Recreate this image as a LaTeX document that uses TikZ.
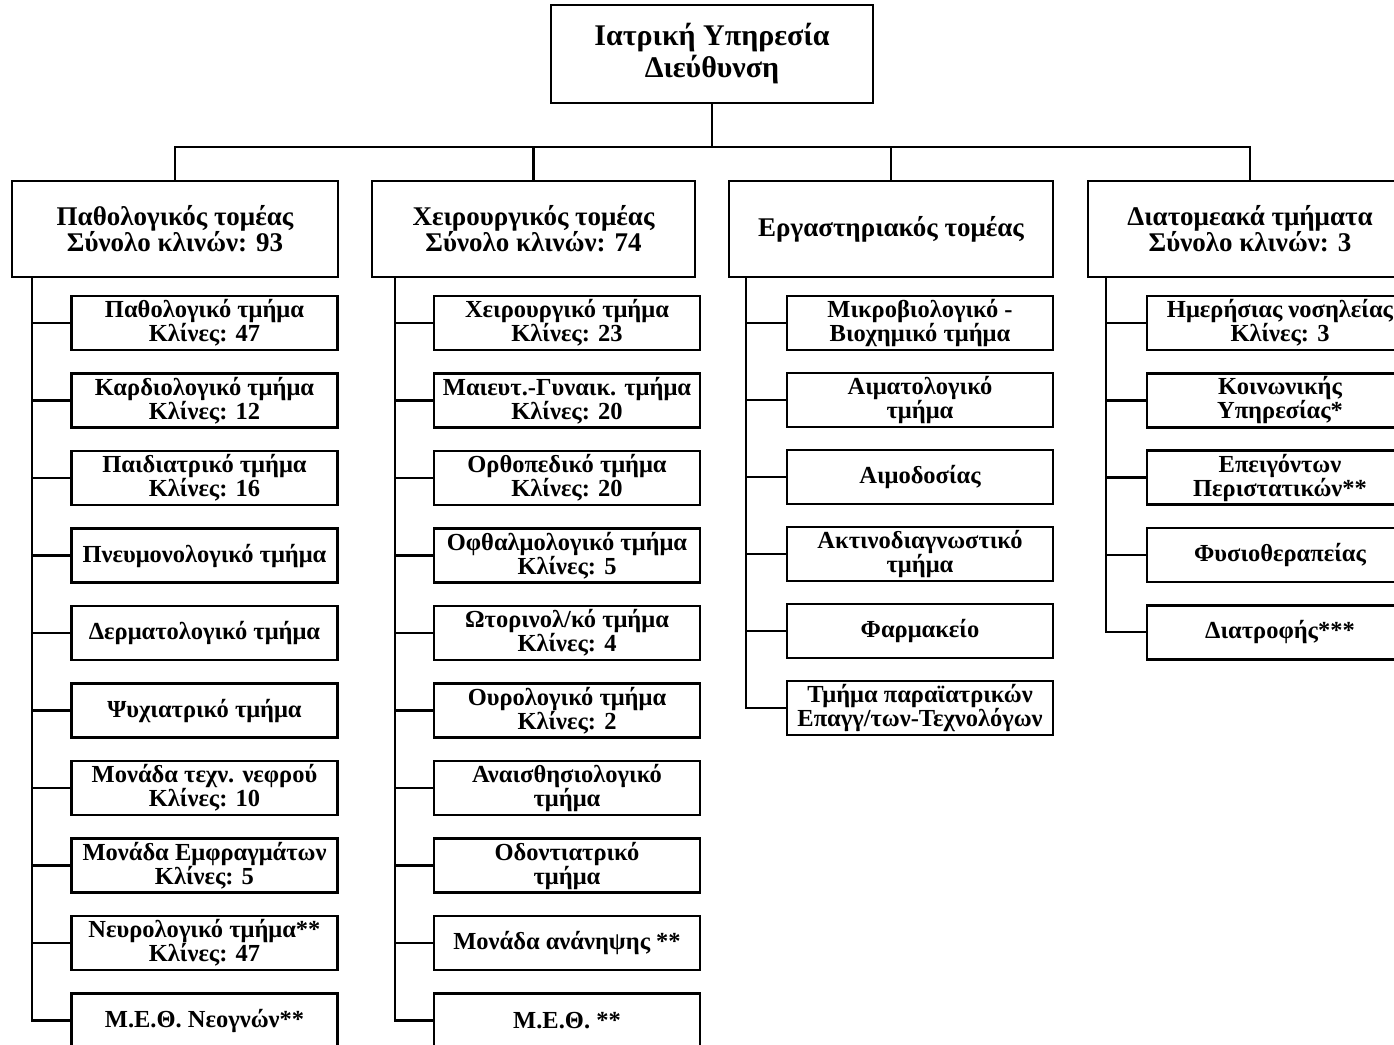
\documentclass[tikz,border=0pt]{standalone}
\usepackage{fontspec}
\setmainfont{Liberation Serif}
\begin{document}
\begin{tikzpicture}[x=1pt,y=-1pt,
  bx/.style={draw=black, line width=2.6pt, align=center, inner sep=0pt, font=\bfseries\fontsize{24.5}{24}\selectfont},
  child/.style={bx, minimum width=266pt, minimum height=54pt},
  sector/.style={bx, minimum width=324pt, minimum height=96pt, font=\bfseries\fontsize{27}{26}\selectfont},
  ln/.style={line width=2.4pt, black}]
\useasboundingbox[fill=white] (0,0) rectangle (1394,1044);
\clip (0,0) rectangle (1394,1044);
% top
\node[bx, minimum width=322pt, minimum height=98pt, font=\bfseries\fontsize{30}{32}\selectfont] (top) at (712,54) {Ιατρική Υπηρεσία\\Διεύθυνση};
\coordinate (j) at (712,147);
% sectors
\node[sector, minimum width=326pt] (s1) at (175,229) {Παθολογικός τομέας\\Σύνολο κλινών: 93};
\node[sector, minimum width=323pt] (s2) at (533.5,229) {Χειρουργικός τομέας\\Σύνολο κλινών: 74};
\node[sector] (s3) at (891,229) {Εργαστηριακός τομέας};
\node[sector] (s4) at (1250,229) {Διατομεακά τμήματα\\Σύνολο κλινών: 3};
\draw[ln] (top.south) -- (j);
\draw[ln] (s1.north) |- (j);
\draw[ln] (s4.north) |- (j);
\draw[ln] (s2.north) -- (s2.north |- j);
\draw[ln] (s3.north) -- (s3.north |- j);
% column 1
\foreach \i/\t in {1/{Παθολογικό τμήμα\\Κλίνες: 47},2/{Καρδιολογικό τμήμα\\Κλίνες: 12},3/{Παιδιατρικό τμήμα\\Κλίνες: 16},4/{Πνευμονολογικό τμήμα},5/{Δερματολογικό τμήμα},6/{Ψυχιατρικό τμήμα},7/{Μονάδα τεχν. νεφρού\\Κλίνες: 10},8/{Μονάδα Εμφραγμάτων\\Κλίνες: 5},9/{Νευρολογικό τμήμα**\\Κλίνες: 47},10/{Μ.Ε.Θ. Νεογνών**}}
  \node[child] (a\i) at (204.5,{323+77.5*(\i-1)}) {\t};
\foreach \i/\t in {1/{Χειρουργικό τμήμα\\Κλίνες: 23},2/{Μαιευτ.-Γυναικ. τμήμα\\Κλίνες: 20},3/{Ορθοπεδικό τμήμα\\Κλίνες: 20},4/{Οφθαλμολογικό τμήμα\\Κλίνες: 5},5/{Ωτορινολ/κό τμήμα\\Κλίνες: 4},6/{Ουρολογικό τμήμα\\Κλίνες: 2},7/{Αναισθησιολογικό\\τμήμα},8/{Οδοντιατρικό\\τμήμα},9/{Μονάδα ανάνηψης **},10/{Μ.Ε.Θ. **}}
  \node[child] (b\i) at (567,{323+77.5*(\i-1)}) {\t};
\foreach \i/\t in {1/{Μικροβιολογικό -\\Βιοχημικό τμήμα},2/{Αιματολογικό\\τμήμα},3/{Αιμοδοσίας},4/{Ακτινοδιαγνωστικό\\τμήμα},5/{Φαρμακείο},6/{Τμήμα παραϊατρικών\\Επαγγ/των-Τεχνολόγων}}
  \node[child] (c\i) at (920,{323+77*(\i-1)}) {\t};
\foreach \i/\t in {1/{Ημερήσιας νοσηλείας\\Κλίνες: 3},2/{Κοινωνικής\\Υπηρεσίας*},3/{Επειγόντων\\Περιστατικών**},4/{Φυσιοθεραπείας},5/{Διατροφής***}}
  \node[child] (d\i) at (1280,{323+77.3*(\i-1)}) {\t};
% trunks
\coordinate (t1) at (32,0);
\coordinate (t2) at (395,0);
\coordinate (t3) at (746,0);
\coordinate (t4) at (1106,0);
\draw[ln] (s1.south -| t1) |- (a10.west);
\draw[ln] (s2.south -| t2) |- (b10.west);
\draw[ln] (s3.south -| t3) |- (c6.west);
\draw[ln] (s4.south -| t4) |- (d5.west);
\foreach \i in {1,...,9} {
  \draw[ln] (a\i.west) -- (a\i.west -| t1);
  \draw[ln] (b\i.west) -- (b\i.west -| t2);
}
\foreach \i in {1,...,5} \draw[ln] (c\i.west) -- (c\i.west -| t3);
\foreach \i in {1,...,4} \draw[ln] (d\i.west) -- (d\i.west -| t4);
\end{tikzpicture}
\end{document}
